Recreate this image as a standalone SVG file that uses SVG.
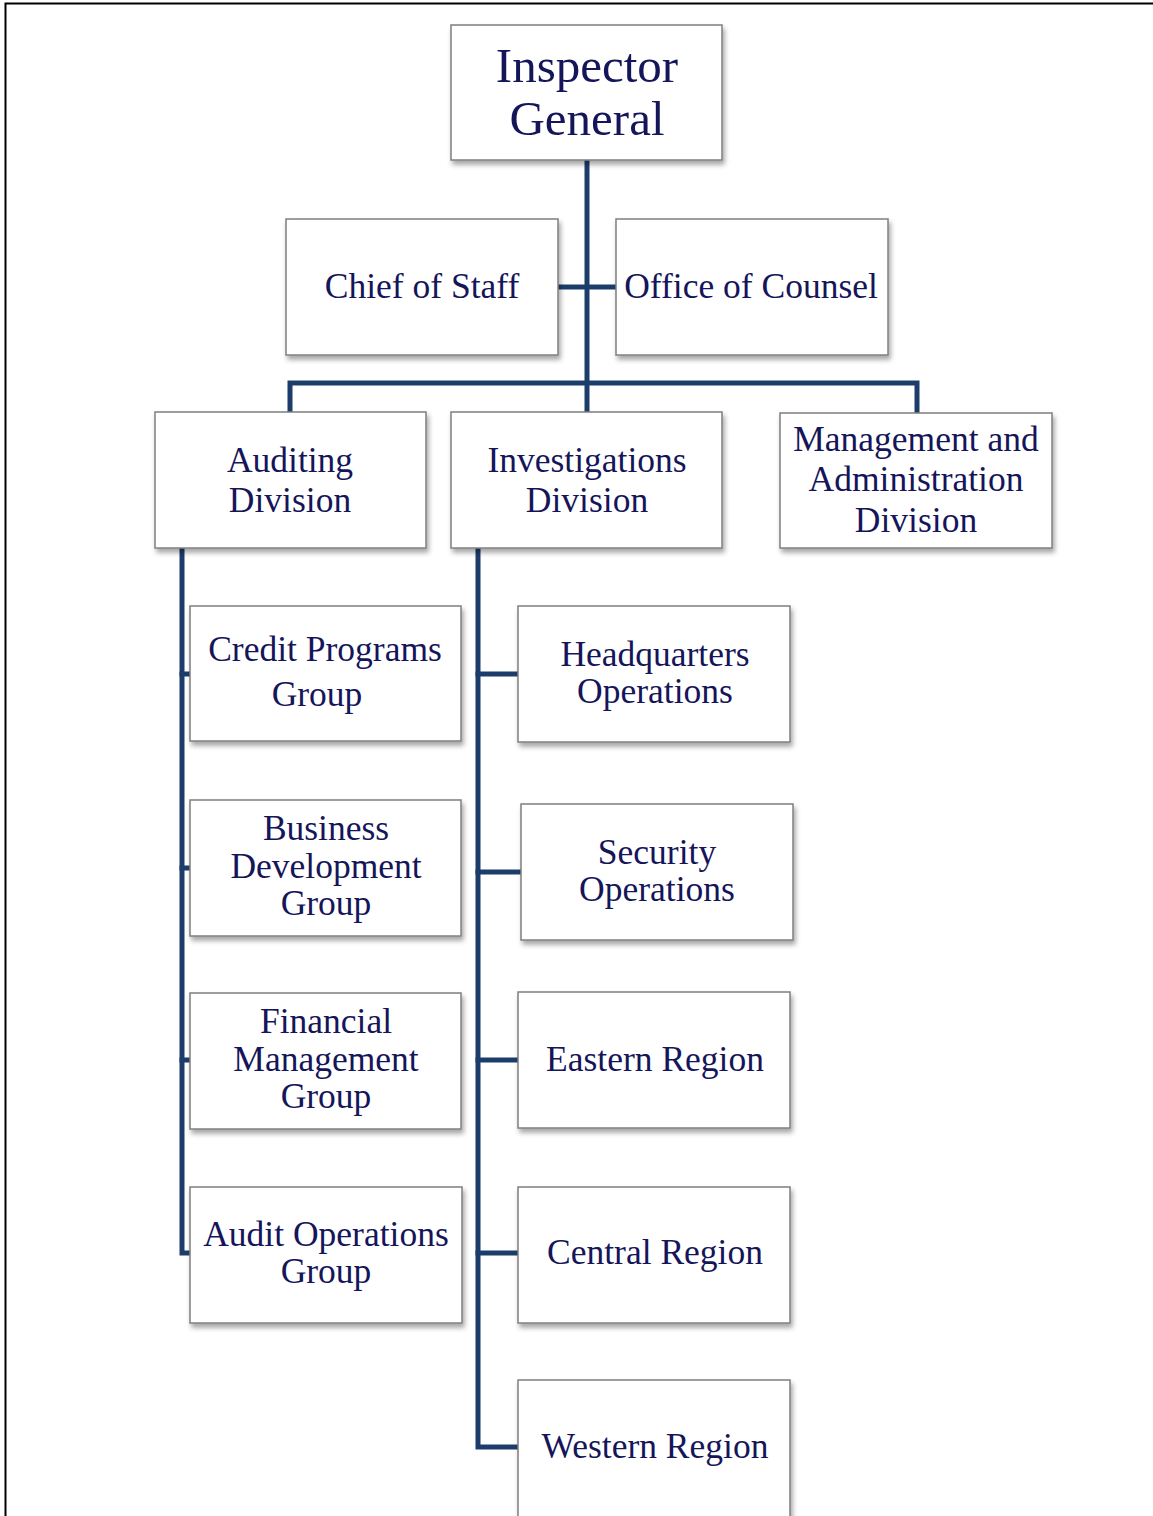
<svg xmlns="http://www.w3.org/2000/svg" width="1153" height="1516" viewBox="0 0 1153 1516">
<style>
.box{fill:#fff;stroke:#7f7f7f;stroke-width:1.5;filter:url(#sh)}
.t{font-family:"Liberation Serif","DejaVu Serif",serif;font-size:35.5px;fill:#15155a;text-anchor:middle}
.big{font-size:49px}
.ln{fill:none;stroke:#1c3d6b;stroke-width:5;stroke-linecap:square}
</style>
<defs>
<filter id="sh" x="-10%" y="-10%" width="125%" height="130%">
<feDropShadow dx="2" dy="4" stdDeviation="2.5" flood-color="#000" flood-opacity="0.35"/>
</filter>
</defs>
<rect x="0" y="0" width="1153" height="1516" fill="#fff"/>
<path d="M5.5 1516 V3.5 H1153" fill="none" stroke="#000" stroke-width="2"/>
<g id="connectors">
<path class="ln" d="M587 160 V412"/>
<path class="ln" d="M560 287 H614"/>
<path class="ln" d="M290 412 V383 H917 V412"/>
<path class="ln" d="M182 550 V1253 H189"/>
<path class="ln" d="M182 674 H189 M182 868 H189 M182 1060 H189"/>
<path class="ln" d="M478 550 V1447 H517"/>
<path class="ln" d="M478 674 H517 M478 872 H520 M478 1060 H517 M478 1253 H517"/>
</g>
<g id="inspector-general"><rect class="box" x="451" y="25" width="271" height="135"/><text class="t big" x="587" y="82">Inspector</text><text class="t big" x="587" y="135">General</text></g>
<g id="chief-of-staff"><rect class="box" x="286" y="219" width="272" height="136"/><text class="t" x="422" y="298">Chief of Staff</text></g>
<g id="office-of-counsel"><rect class="box" x="616" y="219" width="272" height="136"/><text class="t" x="751" y="298">Office of Counsel</text></g>
<g id="auditing-division"><rect class="box" x="155" y="412" width="271" height="136"/><text class="t" x="290" y="472">Auditing</text><text class="t" x="290" y="512">Division</text></g>
<g id="investigations-division"><rect class="box" x="451" y="412" width="271" height="136"/><text class="t" x="587" y="472">Investigations</text><text class="t" x="587" y="512">Division</text></g>
<g id="management-division"><rect class="box" x="780" y="413" width="272" height="135"/><text class="t" x="916" y="451">Management and</text><text class="t" x="916" y="491">Administration</text><text class="t" x="916" y="532">Division</text></g>
<g id="credit-programs"><rect class="box" x="190" y="606" width="271" height="135"/><text class="t" x="325" y="661">Credit Programs</text><text class="t" x="317" y="706">Group</text></g>
<g id="business-development"><rect class="box" x="190" y="800" width="271" height="136"/><text class="t" x="326" y="840">Business</text><text class="t" x="326" y="878">Development</text><text class="t" x="326" y="915">Group</text></g>
<g id="financial-management"><rect class="box" x="190" y="993" width="271" height="136"/><text class="t" x="326" y="1033">Financial</text><text class="t" x="326" y="1071">Management</text><text class="t" x="326" y="1108">Group</text></g>
<g id="audit-operations"><rect class="box" x="190" y="1187" width="272" height="136"/><text class="t" x="326" y="1246">Audit Operations</text><text class="t" x="326" y="1283">Group</text></g>
<g id="headquarters-operations"><rect class="box" x="518" y="606" width="272" height="136"/><text class="t" x="655" y="666">Headquarters</text><text class="t" x="655" y="703">Operations</text></g>
<g id="security-operations"><rect class="box" x="521" y="804" width="272" height="136"/><text class="t" x="657" y="864">Security</text><text class="t" x="657" y="901">Operations</text></g>
<g id="eastern-region"><rect class="box" x="518" y="992" width="272" height="136"/><text class="t" x="655" y="1071">Eastern Region</text></g>
<g id="central-region"><rect class="box" x="518" y="1187" width="272" height="136"/><text class="t" x="655" y="1264">Central Region</text></g>
<g id="western-region"><rect class="box" x="518" y="1380" width="272" height="140"/><text class="t" x="655" y="1458">Western Region</text></g>
</svg>
